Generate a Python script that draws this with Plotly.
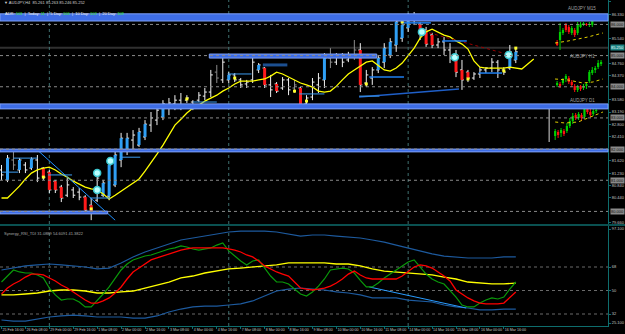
import plotly.graph_objects as go

# ---------------- data ----------------
time_labels = ["25 Feb 16:00", "26 Feb 08:00", "29 Feb 00:00", "29 Feb 16:00", "1 Mar 08:00",
               "2 Mar 00:00", "2 Mar 16:00", "3 Mar 08:00", "4 Mar 00:00", "4 Mar 16:00",
               "7 Mar 08:00", "8 Mar 00:00", "8 Mar 16:00", "9 Mar 08:00", "10 Mar 00:00",
               "10 Mar 16:00", "11 Mar 08:00", "14 Mar 00:00", "14 Mar 16:00", "15 Mar 08:00",
               "16 Mar 00:00", "16 Mar 16:00"]
label_bars = [0, 4, 8, 12, 16, 20, 24, 28, 32, 36, 40, 44, 48, 52, 56, 60, 64, 68, 72, 76, 80, 84]
week_start_bars = [8, 38, 68]

bars = list(range(87))
highs = [81.49, 81.81, 81.97, 81.71, 81.58, 81.74, 81.81, 81.42, 81.33, 81.01,
         80.85, 81.07, 80.78, 80.75, 80.52, 80.43, 81.23, 81.01, 81.65, 81.97,
         82.52, 82.52, 82.61, 82.68, 82.93, 83.19, 83.38, 83.57, 83.64, 83.73,
         83.80, 83.73, 83.57, 83.83, 83.96, 84.54, 84.70, 84.92, 84.47, 84.44,
         84.28, 84.22, 84.95, 84.76, 84.63, 84.38, 84.15, 84.31, 84.28, 84.22,
         83.99, 83.73, 84.28, 84.44, 85.08, 85.24, 85.08, 85.08, 85.12, 85.50,
         85.40, 84.54, 84.63, 85.02, 85.40, 85.56, 86.21, 86.14, 86.37, 86.40,
         86.08, 85.92, 85.73, 85.56, 85.60, 85.40, 85.18, 84.86, 84.54, 84.47,
         84.63, 84.63, 84.92, 84.86, 84.63, 85.34, 85.24]
lows = [81.01, 80.94, 81.33, 81.23, 81.23, 81.33, 80.94, 81.01, 80.59, 80.59,
        80.30, 80.46, 80.43, 80.36, 79.95, 79.72, 80.30, 80.46, 80.36, 80.78,
        81.42, 81.81, 81.97, 82.07, 82.29, 82.55, 82.77, 82.93, 83.09, 83.25,
        83.25, 83.48, 83.25, 83.51, 83.57, 83.67, 84.12, 84.12, 84.12, 84.15,
        83.96, 83.96, 84.12, 84.44, 83.96, 83.67, 83.80, 83.90, 83.73, 83.80,
        83.32, 83.35, 83.57, 83.80, 83.96, 84.60, 84.70, 84.63, 84.79, 84.86,
        83.83, 83.99, 84.06, 84.44, 84.60, 84.92, 85.12, 85.44, 85.76, 85.98,
        85.50, 85.28, 85.24, 85.24, 85.02, 84.76, 84.31, 83.90, 84.15, 84.22,
        84.28, 84.44, 84.47, 84.28, 84.38, 84.54, 84.76]
opens = [81.33, 81.01, 81.65, 81.33, 81.49, 81.39, 81.65, 81.39, 81.26, 80.97,
         80.78, 80.52, 80.69, 80.62, 80.46, 80.20, 80.36, 80.52, 80.49, 80.85,
         81.65, 81.97, 82.29, 82.13, 82.39, 82.77, 82.93, 83.03, 83.41, 83.45,
         83.57, 83.57, 83.51, 83.57, 83.70, 83.83, 84.47, 84.22, 84.22, 84.38,
         84.22, 84.09, 84.22, 84.54, 84.60, 84.06, 84.09, 83.96, 84.22, 83.96,
         83.96, 83.45, 83.67, 84.06, 84.22, 84.92, 84.79, 84.95, 84.86, 85.02,
         85.18, 84.12, 84.28, 84.54, 84.79, 85.02, 85.34, 85.56, 85.89, 86.21,
         86.01, 85.82, 85.66, 85.34, 85.44, 85.18, 85.02, 84.54, 84.47, 84.28,
         84.41, 84.54, 84.60, 84.79, 84.54, 84.60, 84.86]
closes = [81.17, 81.71, 81.49, 81.65, 81.33, 81.68, 81.07, 81.10, 80.69, 80.69,
          80.43, 80.85, 80.52, 80.46, 80.04, 79.98, 81.07, 80.91, 81.49, 81.81,
          82.35, 82.35, 82.45, 82.55, 82.80, 83.00, 83.25, 83.45, 83.48, 83.57,
          83.41, 83.64, 83.32, 83.73, 83.83, 84.38, 84.28, 84.79, 84.38, 84.22,
          84.06, 84.15, 84.79, 84.70, 84.06, 83.90, 83.86, 84.22, 83.90, 84.06,
          83.41, 83.64, 84.15, 84.28, 84.92, 84.79, 84.95, 84.79, 85.02, 85.18,
          84.06, 84.38, 84.54, 84.92, 85.24, 85.44, 86.08, 85.98, 86.24, 86.14,
          85.66, 85.37, 85.34, 85.44, 85.18, 84.92, 84.47, 84.22, 84.28, 84.41,
          84.54, 84.60, 84.79, 84.54, 84.47, 85.12, 85.12]
# w = plain bar, g = grey bar, b = blue body, r = red body
bar_colors = list("wbgbwbwrrr" "rwwwrrwbbb" "bbwbbwwbww" "wwwwwwgwbw"
                  "wwwbrwrwwg" "rwwwbgwwwg" "rwwbbbbbbw" "rrrwwwrrrw" "wwwwwbb")

ma_bars = list(range(90))
ma_values = [80.43, 80.43, 80.62, 80.81, 81.04, 81.23, 81.33, 81.39, 81.42, 81.33,
             81.20, 81.10, 80.97, 80.88, 80.78, 80.72, 80.69, 80.56, 80.40, 80.52,
             80.65, 80.78, 80.91, 81.04, 81.29, 81.55, 81.84, 82.13, 82.45, 82.77,
             82.96, 83.16, 83.32, 83.41, 83.54, 83.64, 83.73, 83.86, 83.96, 84.09,
             84.18, 84.18, 84.18, 84.22, 84.25, 84.34, 84.47, 84.41, 84.31, 84.22,
             84.12, 84.06, 83.99, 83.86, 83.83, 83.86, 84.02, 84.22, 84.41, 84.54,
             84.67, 84.79, 84.83, 84.67, 84.54, 84.50, 84.60, 84.76, 84.99, 85.24,
             85.56, 85.76, 85.85, 85.76, 85.66, 85.60, 85.47, 85.37, 85.21, 84.83,
             84.63, 84.60, 84.60, 84.60, 84.60, 84.63, 84.60, 84.57, 84.73, 84.89]

round_levels = [86.0, 85.0, 84.0, 83.0, 82.0, 81.0, 80.0]
round_texts = ["86.000", "85.000", "84.000", "83.000", "82.000", "81.000", "80.000"]
bid_level = 85.25
bid_text = "85.250"

# zones (price low, price high, first bar, last bar); None = full width
zone_low = [86.11, 84.92, 83.29, 81.91, 79.92]
zone_high = [86.34, 85.05, 83.45, 82.00, 80.01]
zone_from = [None, 34.75, None, None, None]
zone_to = [None, 62.75, None, None, 17.75]

# trend lines (bar, price)
tl_blue_bars = [6.0, 19.0]
tl_blue_prices = [81.97, 79.72]
tl_rise_bars = [59.8, 76.5]
tl_rise_prices = [83.67, 83.93]
tl_red_bars = [71.5, 84.5]
tl_red_prices = [85.73, 85.05]

# short horizontal segments (from bar, to bar, price, style)
seg_from = [0.0, 2.0, 7.8, 14.8, 19.8, 32.0, 37.8, 43.7, 49.8, 59.8, 61.5, 66.8, 73.7, 79.8]
seg_to = [2.8, 6.0, 11.8, 18.2, 23.2, 36.0, 41.8, 47.8, 54.0, 63.2, 67.3, 71.8, 77.8, 83.7]
seg_price = [81.26, 81.71, 81.17, 80.43, 81.74, 83.51, 84.41, 84.70, 83.77, 83.70, 84.31, 86.05, 85.47, 84.44]
seg_style = ["l", "l", "l", "l", "l", "l", "l", "d", "l", "l", "b", "b", "b", "b"]

circle_bars = [16, 16, 18.2, 70.3, 75.8, 84.8]
circle_prices = [81.23, 80.69, 81.62, 85.76, 84.95, 85.02]
mark_bars = [7, 15, 31, 39, 49, 51, 61, 67, 78, 84, 86]
mark_prices = [81.10, 80.08, 83.61, 84.28, 83.86, 83.54, 84.09, 86.08, 84.25, 84.51, 85.24]

price_ticks = [86.720, 86.328, 85.543, 84.758, 84.365, 83.580, 83.188, 82.795, 82.403,
               81.618, 81.225, 80.833, 80.440, 79.655]
price_tick_text = ["86.720", "86.330", "85.540", "84.760", "84.370", "83.580", "83.190", "82.800",
                   "82.410", "81.620", "81.230", "80.840", "80.440", "79.660"]

# indicator (TDI)
tdi_green = [56.5, 61.1, 65.7, 64.2, 63.4, 63.4, 61.9, 59.6, 51.9, 46.6,
             42.7, 43.5, 43.5, 41.2, 37.4, 37.4, 42.0, 47.3, 52.7, 59.6,
             65.7, 70.3, 73.4, 74.9, 76.4, 77.2, 78.7, 80.3, 81.8, 82.6,
             84.1, 83.3, 81.8, 81.0, 81.8, 82.6, 84.8, 86.4, 80.3, 76.4,
             72.6, 69.6, 72.6, 73.4, 67.2, 61.1, 56.5, 56.5, 55.0, 51.1,
             47.3, 45.8, 48.9, 53.4, 58.8, 65.7, 66.5, 67.2, 66.5, 63.4,
             57.8, 52.7, 52.7, 55.7, 59.6, 62.6, 65.7, 68.8, 71.8, 73.4,
             68.0, 62.6, 58.8, 56.5, 55.0, 50.4, 45.0, 38.9, 37.4, 37.4,
             40.4, 42.7, 44.3, 43.5, 45.0, 51.1, 56.5]
tdi_red = [47.3, 51.9, 55.0, 57.3, 60.3, 62.6, 62.6, 61.9, 59.6, 57.3,
           54.2, 51.9, 48.9, 45.8, 42.7, 40.4, 40.4, 42.0, 44.3, 48.1,
           52.7, 58.8, 64.2, 67.2, 70.3, 73.4, 74.9, 76.4, 78.0, 79.5,
           81.0, 81.8, 82.6, 82.6, 82.6, 82.6, 82.6, 82.6, 81.8, 81.0,
           79.5, 77.2, 75.7, 72.6, 68.8, 66.5, 64.2, 62.6, 61.1, 56.5,
           51.9, 51.1, 50.4, 51.1, 51.9, 53.4, 55.7, 58.8, 62.6, 64.9,
           61.9, 59.6, 58.8, 58.8, 58.8, 58.8, 58.8, 61.1, 64.9, 68.0,
           69.6, 68.8, 67.2, 64.2, 61.1, 57.3, 50.4, 47.3, 44.3, 42.0,
           40.4, 39.7, 39.7, 39.7, 40.4, 44.3, 48.9]
tdi_bars2 = list(range(0, 87, 2))
tdi_yellow = [46.6, 46.6, 47.3, 48.1, 49.6, 50.4, 50.4, 49.6, 48.1, 48.1,
              48.9, 49.6, 51.9, 54.2, 56.5, 59.6, 61.1, 63.4, 64.9, 66.5,
              67.2, 68.0, 68.8, 69.6, 71.1, 71.1, 71.1, 71.1, 70.3, 70.3,
              68.8, 66.5, 64.9, 64.2, 63.4, 62.6, 61.9, 60.3, 58.8, 56.5,
              55.7, 55.0, 55.0, 55.7]
tdi_upper = [65.7, 67.2, 68.8, 69.6, 70.3, 69.6, 68.8, 68.0, 66.5, 67.2,
             71.1, 75.7, 79.5, 82.6, 85.6, 88.7, 90.2, 91.7, 93.3, 94.8,
             95.5, 95.5, 95.5, 94.8, 93.3, 91.7, 92.5, 92.5, 91.7, 91.0,
             90.2, 88.7, 87.1, 84.8, 82.6, 80.3, 78.0, 76.4, 75.7, 74.9,
             74.9, 74.9, 75.7, 75.7]
tdi_lower = [27.4, 26.6, 26.6, 28.2, 29.7, 30.5, 31.2, 30.5, 29.7, 29.7,
             29.7, 28.9, 28.9, 30.5, 33.5, 35.8, 37.4, 38.1, 38.1, 38.9,
             39.7, 42.0, 45.8, 49.6, 51.1, 51.9, 51.1, 50.4, 48.9, 48.1,
             46.6, 44.3, 44.3, 44.3, 42.7, 42.0, 41.2, 38.9, 37.4, 36.6,
             35.1, 35.1, 35.8, 35.8]
tdi_trend_bars = [61.5, 77.7]
tdi_trend_values = [52.7, 36.6]
tdi_levels = [68, 50, 32]
tdi_ticks = [97.1, 68, 50, 32, 25.1]
tdi_tick_text = ["97.100", "68", "50", "32", "25.100"]

# inset mini charts (values in inset units)
m15_open = [10, 12, 19, 27, 25, 19, 22, 19, 25, 27, 28, 27, 27, 35, 34, 35]
m15_close = [7, 20, 22, 22, 20, 24, 17, 28, 28, 29, 27, 28, 34, 33, 35, 34]
m15_high = [12, 29, 24, 29, 27, 26, 24, 30, 30, 30, 29, 30, 36, 37, 36, 37]
m15_low = [6, 2, 17, 20, 18, 17, 15, 17, 24, 26, 26, 25, 25, 32, 33, 33]
m15_ma_x = [-0.7, 3.7, 10.5, 15.6]
m15_ma = [9, 11, 15, 19]

h1_open = [11, 12, 13, 17, 18, 14, 10, 6, 10, 8, 10, 15, 23, 26, 29, 32]
h1_close = [13, 10, 16, 20, 14, 11, 6, 9, 7, 10, 12, 24, 26, 28, 33, 34]
h1_high = [15, 14, 18, 22, 20, 16, 12, 11, 11, 12, 13, 26, 29, 30, 36, 36]
h1_low = [9, 8, 11, 14, 12, 9, 4, 4, 5, 6, 7, 13, 21, 23, 27, 30]
h1_ma_x = [-0.7, 3.7, 8.8, 12.2, 15.6]
h1_ma = [17, 16, 13, 14, 17]

d1_open = [6, 10, 9, 11, 11, 16, 21, 27, 24, 27, 25, 33, 30, 28, 31]
d1_close = [11, 7, 12, 8, 16, 21, 26, 24, 28, 24, 33, 30, 27, 31, 32]
d1_high = [13, 12, 14, 13, 19, 24, 29, 29, 30, 29, 36, 35, 33, 33, 34]
d1_low = [2, 4, 5, 6, 9, 14, 18, 22, 22, 21, 23, 28, 25, 26, 29]
d1_ma_x = [0, 3.4, 7.8, 12.2, 16.3]
d1_ma = [20, 19, 20, 25, 30]
d1_range_x = -2.04
d1_range = [0, 35]

# ---------------- styling ----------------
TEAL = "#0e6d6d"
LBL = "#c4c4c4"
FONT = "Liberation Sans"
PW, PH = 610, 326  # plot area in px

fig = go.Figure()

# price bars
wx, wy, gx, gy = [], [], [], []
for k in bars:
    o, h, l, c = opens[k], highs[k], lows[k], closes[k]
    tx, ty = (gx, gy) if bar_colors[k] == "g" else (wx, wy)
    tx += [k, k, None, k - 0.34, k, None, k, k + 0.34, None]
    ty += [l, h, None, o, o, None, c, c, None]
fig.add_trace(go.Scatter(x=wx, y=wy, mode="lines", line=dict(color="#f2f2f2", width=1),
                         hoverinfo="skip", xaxis="x", yaxis="y"))
fig.add_trace(go.Scatter(x=gx, y=gy, mode="lines", line=dict(color="#8c8c8c", width=1),
                         hoverinfo="skip", xaxis="x", yaxis="y"))
for code, col in (("b", "#2f9ff5"), ("r", "#ff1a1a")):
    bxs, bys = [], []
    for k in bars:
        if bar_colors[k] == code:
            bxs += [k, k, None]
            bys += [opens[k], closes[k], None]
    fig.add_trace(go.Scatter(x=bxs, y=bys, mode="lines", line=dict(color=col, width=3),
                             hoverinfo="skip", xaxis="x", yaxis="y"))

# moving average
fig.add_trace(go.Scatter(x=ma_bars, y=ma_values, mode="lines", line=dict(color="#ffff00", width=1.3),
                         hoverinfo="skip", xaxis="x", yaxis="y"))

# trend lines
fig.add_trace(go.Scatter(x=tl_blue_bars, y=tl_blue_prices, mode="lines",
                         line=dict(color="#1e90ff", width=1), xaxis="x", yaxis="y", hoverinfo="skip"))
fig.add_trace(go.Scatter(x=tl_rise_bars, y=tl_rise_prices, mode="lines",
                         line=dict(color="#1f5fc8", width=1.5), xaxis="x", yaxis="y", hoverinfo="skip"))
fig.add_trace(go.Scatter(x=tl_red_bars, y=tl_red_prices, mode="lines",
                         line=dict(color="#9a0000", width=1, dash="dot"), xaxis="x", yaxis="y", hoverinfo="skip"))

seg_styles = {"l": ("#3c9cf0", 1), "d": ("#1c4f90", 3), "b": ("#1e7ff0", 1.5)}
for st, (col, wd) in seg_styles.items():
    sx, sy = [], []
    for a, b, p, s in zip(seg_from, seg_to, seg_price, seg_style):
        if s == st:
            sx += [a, b, None]
            sy += [p, p, None]
    fig.add_trace(go.Scatter(x=sx, y=sy, mode="lines", line=dict(color=col, width=wd),
                             xaxis="x", yaxis="y", hoverinfo="skip"))

fig.add_trace(go.Scatter(x=mark_bars, y=mark_prices, mode="markers",
                         marker=dict(symbol="square", size=3, color="#ffff30"),
                         xaxis="x", yaxis="y", hoverinfo="skip"))
fig.add_trace(go.Scatter(x=circle_bars, y=circle_prices, mode="markers",
                         marker=dict(symbol="circle", size=7, color="#b8ffff",
                                     line=dict(color="#3cc8d0", width=1.5)),
                         xaxis="x", yaxis="y", hoverinfo="skip"))

# indicator
ind = [
    (tdi_bars2, tdi_upper, "#1d5a9e", 1.2),
    (tdi_bars2, tdi_lower, "#1d5a9e", 1.2),
    (tdi_trend_bars, tdi_trend_values, "#2a9cff", 1),
    (tdi_bars2, tdi_yellow, "#ffff00", 1.3),
    (bars, tdi_green, "#0a9a0a", 1.2),
    (bars, tdi_red, "#ff0000", 1.3),
]
for xs, ys, col, wd in ind:
    fig.add_trace(go.Scatter(x=xs, y=ys, mode="lines", line=dict(color=col, width=wd),
                             xaxis="x", yaxis="y2", hoverinfo="skip"))

# inset mini charts
def add_inset(op, cl, hi, lo, ma_x, ma, xa, ya):
    for up, col in ((True, "#00d000"), (False, "#ff1010")):
        wxs, wys, bxs, bys = [], [], [], []
        for i in range(len(op)):
            if (cl[i] >= op[i]) == up:
                wxs += [i, i, None]
                wys += [lo[i], hi[i], None]
                bxs += [i, i, None]
                bys += [op[i], cl[i], None]
        fig.add_trace(go.Scatter(x=wxs, y=wys, mode="lines", line=dict(color=col, width=1),
                                 xaxis=xa, yaxis=ya, hoverinfo="skip"))
        fig.add_trace(go.Scatter(x=bxs, y=bys, mode="lines", line=dict(color=col, width=2.2),
                                 xaxis=xa, yaxis=ya, hoverinfo="skip"))
    fig.add_trace(go.Scatter(x=ma_x, y=ma, mode="lines", line=dict(color="#e0d000", width=1, dash="dot"),
                             xaxis=xa, yaxis=ya, hoverinfo="skip"))

add_inset(m15_open, m15_close, m15_high, m15_low, m15_ma_x, m15_ma, "x3", "y3")
add_inset(h1_open, h1_close, h1_high, h1_low, h1_ma_x, h1_ma, "x4", "y4")
add_inset(d1_open, d1_close, d1_high, d1_low, d1_ma_x, d1_ma, "x5", "y5")
fig.add_trace(go.Scatter(x=[d1_range_x, d1_range_x], y=d1_range, mode="lines",
                         line=dict(color="#909090", width=1.5), xaxis="x5", yaxis="y5", hoverinfo="skip"))

# ---------------- shapes ----------------
shapes = []
shapes.append(dict(type="line", xref="paper", yref="y", x0=0, x1=1, y0=bid_level, y1=bid_level,
                   line=dict(color="#303030", width=2), layer="below"))
for lo, hi, a, b in zip(zone_low, zone_high, zone_from, zone_to):
    if a is None and b is None:
        shapes.append(dict(type="rect", xref="paper", yref="y", x0=0, x1=1, y0=lo, y1=hi,
                           fillcolor="#3e6de6", line=dict(color="#7d9ff5", width=1), layer="above"))
    else:
        shapes.append(dict(type="rect", xref="x", yref="y", x0=a if a is not None else -0.25,
                           x1=b, y0=lo, y1=hi,
                           fillcolor="#3e6de6", line=dict(color="#7d9ff5", width=1), layer="above"))
for lvl in round_levels:
    shapes.append(dict(type="line", xref="paper", yref="y", x0=0, x1=1, y0=lvl, y1=lvl,
                       line=dict(color="#8a8a8a", width=1, dash="dot"), layer="above"))
for lvl in tdi_levels:
    shapes.append(dict(type="line", xref="paper", yref="y2", x0=0, x1=1, y0=lvl, y1=lvl,
                       line=dict(color="#6a6a6a", width=1, dash="dot"), layer="below"))
for wb in week_start_bars:
    shapes.append(dict(type="line", xref="x", yref="paper", x0=wb, x1=wb, y0=0, y1=1,
                       line=dict(color="#3f7070", width=1, dash="dot"), layer="below"))
shapes.append(dict(type="line", xref="paper", yref="paper", x0=0, x1=1.03,
                   y0=1 - 225 / PH, y1=1 - 225 / PH, line=dict(color=TEAL, width=1.5)))

# ---------------- annotations ----------------
ann = []
small = dict(family=FONT, size=4, color=LBL)
ann.append(dict(xref="paper", yref="paper", x=2 / PW, y=1 - 3 / PH, xanchor="left", yanchor="middle",
                text="▼ AUDJPY,H4  85.261 85.263 85.246 85.252", showarrow=False,
                font=dict(family=FONT, size=4, color="#d0d0d0")))
G = "#2ee82e"
adr = ("ADR: <span style='color:%s'>103</span>  |  Today: <span style='color:%s'>11</span>  |  "
       "5 Day: <span style='color:%s'>106</span>  |  10 Day: <span style='color:%s'>103</span>  |  "
       "20 Day: <span style='color:%s'>108</span>") % (G, G, G, G, G)
ann.append(dict(xref="paper", yref="paper", x=3 / PW, y=1 - 13.5 / PH, xanchor="left", yanchor="middle",
                text=adr, showarrow=False, font=dict(family=FONT, size=4, color="#f0f0f0")))
ann.append(dict(xref="paper", yref="paper", x=2 / PW, y=1 - 233 / PH, xanchor="left", yanchor="middle",
                text="Synergy_RSI_TDI 31.0889 54.6091 41.3822", showarrow=False,
                font=dict(family=FONT, size=4, color="#a8a8a8")))
for txt, yy in (("AUDJPY M15", 9), ("AUDJPY H1", 56), ("AUDJPY D1", 100.5)):
    ann.append(dict(xref="paper", yref="paper", x=584 / PW, y=1 - yy / PH, xanchor="center",
                    yanchor="middle", text=txt, showarrow=False,
                    font=dict(family=FONT, size=4.5, color="#a0a0a0")))
for lvl, txt in zip(round_levels, round_texts):
    ann.append(dict(xref="paper", yref="y", x=612 / PW, y=lvl, xanchor="left", yanchor="middle",
                    text=txt, showarrow=False, bgcolor="#8a8a8a", borderpad=0,
                    font=dict(family=FONT, size=4, color="#101010")))
ann.append(dict(xref="paper", yref="y", x=612 / PW, y=bid_level, xanchor="left", yanchor="middle",
                text=bid_text, showarrow=False, bgcolor="#1f8585", borderpad=0,
                font=dict(family=FONT, size=4, color="#e8ffff")))

# ---------------- layout ----------------
def inset_axes(px0, px1, r):
    return dict(domain=[px0 / PW, px1 / PW], range=r, visible=False, fixedrange=True)

def inset_yaxes(py_top, py_bot, r):
    return dict(domain=[1 - py_bot / PH, 1 - py_top / PH], range=r, visible=False, fixedrange=True)

fig.update_layout(
    width=625, height=334,
    margin=dict(l=0, r=15, t=0, b=8, pad=0),
    paper_bgcolor="#000000", plot_bgcolor="rgba(0,0,0,0)",
    showlegend=False, hovermode=False,
    xaxis=dict(domain=[0, 1], range=[-0.25, (PW - 1.5) / 6], anchor="y2",
               showgrid=False, zeroline=False, showline=True, linecolor=TEAL, linewidth=1,
               tickvals=label_bars, ticktext=time_labels, ticks="outside", ticklen=2,
               tickangle=0, tickcolor=TEAL, ticklabelposition="outside right",
               tickfont=dict(family=FONT, size=3.6, color=LBL)),
    yaxis=dict(domain=[1 - 224 / PH, 1], range=[79.596, 86.784], side="right", anchor="x",
               showgrid=False, zeroline=False, showline=True, linecolor=TEAL, linewidth=1,
               tickvals=price_ticks, ticktext=price_tick_text, ticks="outside", ticklen=2,
               tickcolor=TEAL, tickfont=small),
    yaxis2=dict(domain=[0, 1 - 226 / PH], range=[22.81, 99.40], side="right", anchor="x",
                showgrid=False, zeroline=False, showline=True, linecolor=TEAL, linewidth=1,
                tickvals=tdi_ticks, ticktext=tdi_tick_text, ticks="outside", ticklen=2,
                tickcolor=TEAL, tickfont=small),
    xaxis3=dict(inset_axes(556, 606, [-1, 16]), anchor="y3"),
    yaxis3=dict(inset_yaxes(12, 52, [0, 40]), anchor="x3"),
    xaxis4=dict(inset_axes(556, 606, [-1, 16]), anchor="y4"),
    yaxis4=dict(inset_yaxes(56, 96, [0, 40]), anchor="x4"),
    xaxis5=dict(inset_axes(548, 606, [-3.06, 16.67]), anchor="y5"),
    yaxis5=dict(inset_yaxes(102, 142, [0, 40]), anchor="x5"),
    shapes=shapes, annotations=ann,
)

fig.write_html("out.html")
